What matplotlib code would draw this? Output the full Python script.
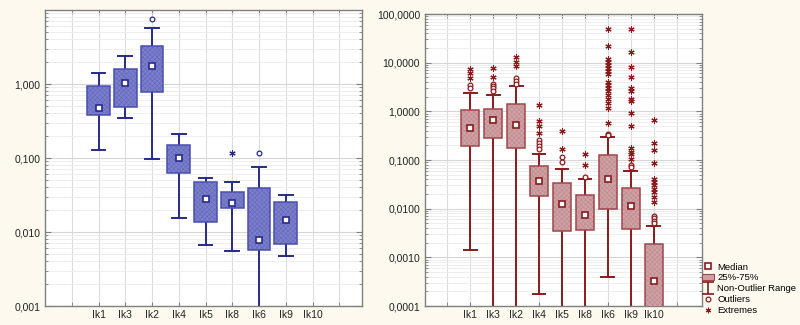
import matplotlib
matplotlib.use("Agg")
import matplotlib.pyplot as plt
from matplotlib.patches import PathPatch, Patch
from matplotlib.lines import Line2D
from matplotlib.path import Path
from matplotlib.ticker import FixedLocator, LogLocator, NullFormatter

plt.rcParams['font.family'] = ['Liberation Sans', 'DejaVu Sans']
plt.rcParams['hatch.linewidth'] = 0.4

categories = ["Ik1", "Ik3", "Ik2", "Ik4", "Ik5", "Ik8", "Ik6", "Ik9", "Ik10"]

# ---- left panel (blue) ----
L_low = [0.127, 0.343, 0.097, 0.0156, 0.00675, 0.00554, 0.0005, 0.00479, None]
L_q1 = [0.385, 0.484, 0.787, 0.062, 0.0135, 0.0211, 0.00577, 0.00689, None]
L_med = [0.474, 1.02, 1.75, 0.099, 0.0279, 0.0244, 0.0078, 0.0144, None]
L_q3 = [0.93, 1.59, 3.23, 0.151, 0.0474, 0.0344, 0.0397, 0.0254, None]
L_high = [1.41, 2.41, 5.65, 0.209, 0.0542, 0.0479, 0.0748, 0.0313, None]
L_outliers = {"Ik2": [7.64], "Ik6": [0.117]}
L_extremes = {"Ik8": [0.118]}
L_yticks = [0.001, 0.01, 0.1, 1.0]
L_ylabels = ["0,001", "0,010", "0,100", "1,000"]

# ---- right panel (red) ----
R_low = [0.00141, 0.00005, 0.00005, 0.000174, 0.00005, 0.00005, 0.0004, 0.00005, 0.00003]
R_q1 = [0.19, 0.279, 0.174, 0.0182, 0.00348, 0.00365, 0.01, 0.00376, 0.00005]
R_med = [0.448, 0.653, 0.524, 0.037, 0.0125, 0.0074, 0.0413, 0.0112, 0.000332]
R_q3 = [1.05, 1.13, 1.39, 0.074, 0.0332, 0.0191, 0.125, 0.0262, 0.00188]
R_high = [2.4, 2.2, 3.36, 0.135, 0.0643, 0.0413, 0.297, 0.0594, 0.00433]
R_outliers = {
    "Ik1": [3.45, 2.95],
    "Ik3": [3.7, 3.3, 2.95, 2.6],
    "Ik2": [4.84, 4.2, 3.65],
    "Ik4": [0.26, 0.225, 0.195, 0.17],
    "Ik5": [0.114, 0.091],
    "Ik8": [0.044],
    "Ik6": [0.35, 0.33],
    "Ik9": [0.079, 0.073],
    "Ik10": [0.00708, 0.00637, 0.00565, 0.00505],
}
R_extremes = {
    "Ik1": [7.41, 6.04, 4.92],
    "Ik3": [7.8, 5.1],
    "Ik2": [12.9, 10.5, 8.54],
    "Ik4": [1.33, 0.62, 0.49, 0.365],
    "Ik5": [0.394, 0.168],
    "Ik8": [0.131, 0.079],
    "Ik6": [49, 22, 12, 10.5, 9.0, 7.9, 6.8, 5.8, 4.1, 3.5, 3.0, 2.6, 2.2, 1.8, 1.45, 1.15, 0.57],
    "Ik9": [49, 16.8, 8.15, 5.0, 2.97, 2.66, 1.79, 1.65, 0.91, 0.507, 0.179, 0.148, 0.133, 0.103],
    "Ik10": [0.664, 0.22, 0.16, 0.0855, 0.0408, 0.0359, 0.0306, 0.0251, 0.0217, 0.0176, 0.0139],
}
R_yticks = [0.0001, 0.001, 0.01, 0.1, 1.0, 10.0, 100.0]
R_ylabels = ["0,0001", "0,0010", "0,0100", "0,1000", "1,0000", "10,0000", "100,0000"]

BG = "#fdf9ef"
fig = plt.figure(figsize=(8, 3.25), dpi=100, facecolor=BG)

W, H = 800, 325
def axes_px(x0, x1, ytop, ybot):
    return fig.add_axes([x0 / W, (H - ybot) / H, (x1 - x0) / W, (ybot - ytop) / H])

axL = axes_px(45, 362, 10, 306)
axR = axes_px(425, 702, 14, 306)

STAR = (6, 2, 0)
IPATH = Path([(-1, 1), (1, 1), (0, 1), (0, -1), (-1, -1), (1, -1)],
             [Path.MOVETO, Path.LINETO, Path.MOVETO, Path.LINETO, Path.MOVETO, Path.LINETO])


def draw_panel(ax, low, q1, med, q3, high, outliers, extremes, yticks, ylabels, ylim, xlim,
               face, hatchc, outline, edge, boxw, capw, msize):
    positions = list(range(1, len(categories) + 1))
    stats, pos = [], []
    for i, c in enumerate(categories):
        if med[i] is None:
            continue
        stats.append(dict(med=med[i], q1=q1[i], q3=q3[i], whislo=low[i], whishi=high[i],
                          fliers=[], label=c))
        pos.append(positions[i])
    res = ax.bxp(stats, positions=pos, widths=boxw, patch_artist=True, showfliers=False,
                 capwidths=capw, manage_ticks=False,
                 boxprops=dict(facecolor=face, edgecolor=hatchc, hatch="xxxxxxx", linewidth=0),
                 whiskerprops=dict(color=edge, linewidth=1.4),
                 capprops=dict(color=edge, linewidth=1.4),
                 medianprops=dict(linewidth=0))
    for b in res["boxes"]:
        b.set_zorder(3)
        ax.add_patch(PathPatch(b.get_path(), fill=False, edgecolor=outline, linewidth=1.1, zorder=3.5))
    for w in res["whiskers"] + res["caps"]:
        w.set_zorder(2.5)
    ax.plot(pos, [m for m in med if m is not None], linestyle="none", marker="s",
            markersize=msize, markerfacecolor="white", markeredgecolor=edge,
            markeredgewidth=1.2, zorder=5)
    for c, vals in outliers.items():
        x = positions[categories.index(c)]
        ax.plot([x] * len(vals), vals, linestyle="none", marker="o", markersize=3.4,
                markerfacecolor="white", markeredgecolor=edge, markeredgewidth=0.9, zorder=5)
    for c, vals in extremes.items():
        x = positions[categories.index(c)]
        ax.plot([x] * len(vals), vals, linestyle="none", marker=STAR, markersize=4.5,
                color=edge, markeredgewidth=0.8, zorder=5)

    ax.set_yscale("log")
    ax.set_ylim(*ylim)
    ax.set_xlim(*xlim)
    ax.set_facecolor("white")
    ax.yaxis.set_major_locator(FixedLocator(yticks))
    ax.set_yticklabels(ylabels)
    ax.yaxis.set_minor_locator(LogLocator(base=10, subs=range(2, 10), numticks=20))
    ax.yaxis.set_minor_formatter(NullFormatter())
    ax.set_xticks(range(0, 11), minor=True)
    ax.set_xticks(positions)
    ax.set_xticklabels(categories)
    ax.grid(True, which="major", axis="y", color="#d6d6d6", linewidth=0.8, zorder=0)
    ax.grid(True, which="minor", axis="y", color="#ebebeb", linewidth=0.6, zorder=0)
    ax.grid(True, which="minor", axis="x", color="#dcdcdc", linewidth=0.8, zorder=0)
    ax.grid(True, which="major", axis="x", color="#dcdcdc", linewidth=0.8, zorder=0)
    ax.set_axisbelow(True)
    for s in ax.spines.values():
        s.set_color("#808080")
        s.set_linewidth(1.0)
    ax.tick_params(axis="both", which="both", direction="in", top=True, right=True,
                   colors="#808080", labelcolor="#222222", labelsize=7.5)
    ax.tick_params(axis="y", which="major", length=4)
    ax.tick_params(axis="y", which="minor", length=2.5)
    ax.tick_params(axis="x", which="both", length=3, pad=3)


draw_panel(axL, L_low, L_q1, L_med, L_q3, L_high, L_outliers, L_extremes, L_yticks, L_ylabels,
           (0.001, 10), (-1.0, 10.85), "#7a7ecb", "#6468bb", "#4a4fae", "#262b88", 0.85, 0.52, 4.5)
draw_panel(axR, R_low, R_q1, R_med, R_q3, R_high, R_outliers, R_extremes, R_yticks, R_ylabels,
           (0.0001, 100), (-0.97, 11.1), "#cfa1a4", "#bd8a8e", "#a0474c", "#8b1a1c", 0.8, 0.56, 4.0)

red = "#8b1a1c"
handles = [
    Line2D([], [], linestyle="none", marker="s", markersize=4, markerfacecolor="white",
           markeredgecolor=red, markeredgewidth=1.2),
    Patch(facecolor="#cfa1a4", edgecolor="#a0474c", linewidth=0.8),
    Line2D([], [], linestyle="none", marker=IPATH, markersize=9, markerfacecolor="none",
           markeredgecolor=red, markeredgewidth=1.2),
    Line2D([], [], linestyle="none", marker="o", markersize=3.4, markerfacecolor="white",
           markeredgecolor=red, markeredgewidth=0.9),
    Line2D([], [], linestyle="none", marker=STAR, markersize=4.0, color=red, markeredgewidth=0.8),
]
labels = ["Median", "25%-75%", "Non-Outlier Range", "Outliers", "Extremes"]
fig.legend(handles, labels, loc="lower left", bbox_to_anchor=(701 / W, 9 / H), frameon=False,
           fontsize=6.8, handlelength=1.3, handletextpad=0.3, labelspacing=0.2, borderpad=0.1,
           borderaxespad=0)

fig.savefig("out.png", dpi=100, facecolor=BG)
